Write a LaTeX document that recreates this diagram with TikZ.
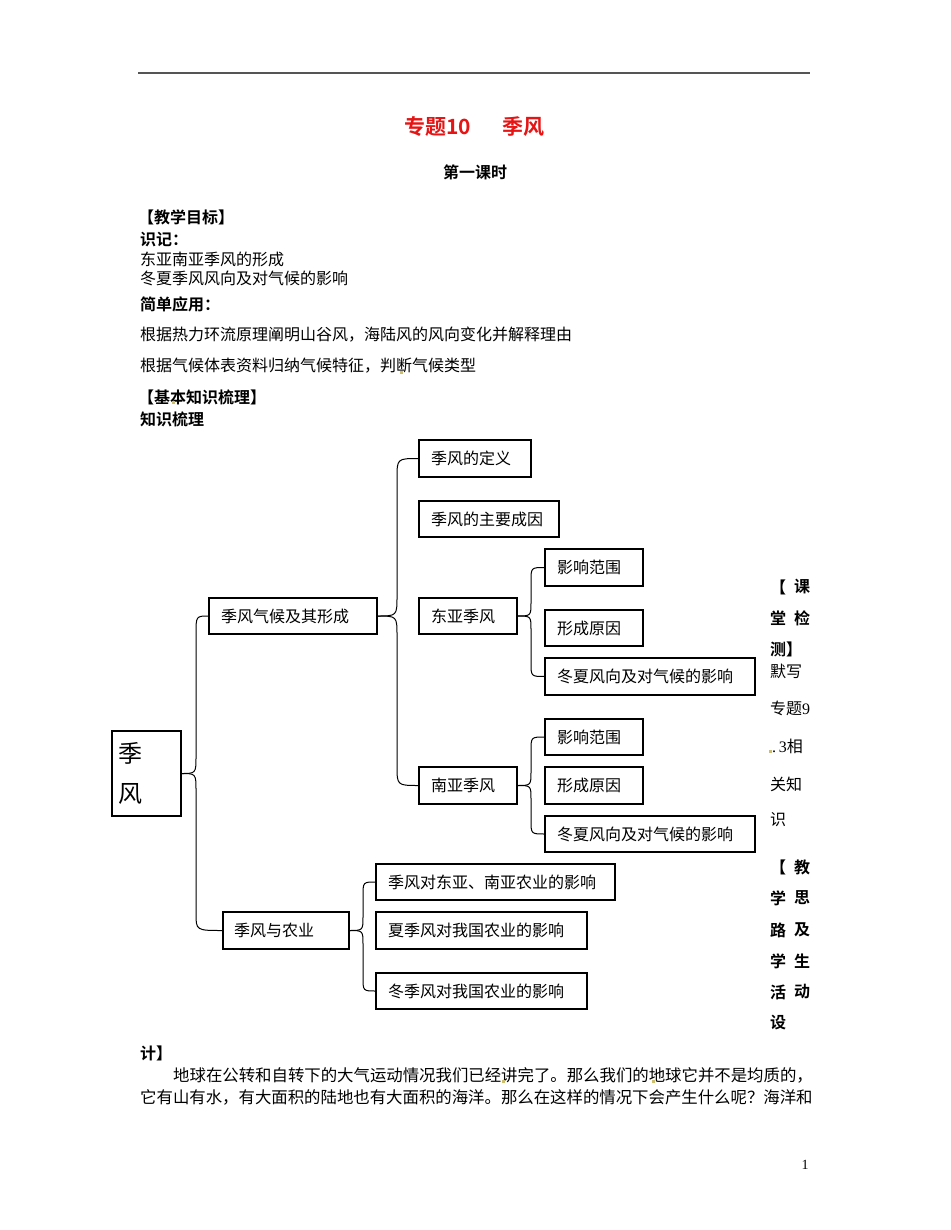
\documentclass[tikz,border=0pt]{standalone}
\usepackage{fontspec}
\newfontfamily\cjk{Noto Sans CJK SC}
\newfontfamily\cjkb{Noto Sans CJK SC Bold}
\newfontfamily\serif{Liberation Serif}
\definecolor{titlered}{RGB}{230,20,20}
\definecolor{marky}{RGB}{205,190,110}
\definecolor{rulegray}{RGB}{85,85,85}
\begin{document}
\begin{tikzpicture}[x=1pt,y=-1pt,
  txt/.style={anchor=west, inner sep=0pt, font=\cjk\fontsize{16}{19}\selectfont},
  btxt/.style={anchor=west, inner sep=0pt, font=\cjkb\fontsize{16}{19}\selectfont},
  ptxt/.style={anchor=west, inner sep=0pt, font=\cjk\fontsize{16.4}{19}\selectfont},
  bx/.style={draw, line width=1.2pt, inner xsep=12pt, inner ysep=0pt, outer sep=0pt,
             anchor=north west, align=left, font=\cjk\fontsize{16}{19}\selectfont},
  conn/.style={line width=1pt},
  mk/.style={fill=marky, draw=none}]
\useasboundingbox[fill=white] (0,0) rectangle (950,1230);

% header rule
\draw[line width=2pt, rulegray] (138,73) -- (810,73);

% title
\node[btxt, text=titlered, font=\cjkb\fontsize{21}{24}\selectfont] (t1) at (404,127) {专题10};
\node[btxt, text=titlered, font=\cjkb\fontsize{21}{24}\selectfont] (t2) at (502,127) {季风};
\node[btxt] (t3) at (443,172) {第一课时};

% upper text
\node[btxt] (h1) at (138,217) {【教学目标】};
\node[btxt] (h2) at (140,240) {识记：};
\node[txt] (l1) at (140,259) {东亚南亚季风的形成};
\node[txt] (l2) at (140,278) {冬夏季风风向及对气候的影响};
\node[btxt] (h3) at (140,304) {简单应用：};
\node[txt] (l3) at (140,335) {根据热力环流原理阐明山谷风，海陆风的风向变化并解释理由};
\node[txt] (l4) at (140,366) {根据气候体表资料归纳气候特征，判断气候类型};
\fill[mk] (399.5,370.5) rectangle (402.5,373.5);
\node[btxt] (h4) at (138,397) {【基本知识梳理】};
\fill[mk] (171.5,400.5) rectangle (174.5,403.5);
\node[btxt] (h5) at (140,419) {知识梳理};

% boxes
\node[bx, inner xsep=6pt, text width=57pt, minimum height=85pt,
      font=\cjk\fontsize{24}{40}\selectfont] (root) at (112,731) {季\\风};
\node[bx, text width=144pt, minimum height=36pt] (mid1) at (209,598) {季风气候及其形成};
\node[bx, text width=88pt,  minimum height=37pt] (def)  at (419,440) {季风的定义};
\node[bx, text width=116pt, minimum height=36pt] (cau)  at (419,501) {季风的主要成因};
\node[bx, text width=74pt,  minimum height=36pt] (ea)   at (419,598) {东亚季风};
\node[bx, text width=74pt,  minimum height=37pt] (ea1)  at (545,549) {影响范围};
\node[bx, text width=74pt,  minimum height=36pt] (ea2)  at (545,610) {形成原因};
\node[bx, text width=186pt, minimum height=37pt] (ea3)  at (545,658) {冬夏风向及对气候的影响};
\node[bx, text width=74pt,  minimum height=37pt] (sa)   at (419,767) {南亚季风};
\node[bx, text width=74pt,  minimum height=36pt] (sa1)  at (545,719) {影响范围};
\node[bx, text width=74pt,  minimum height=37pt] (sa2)  at (545,767) {形成原因};
\node[bx, text width=186pt, minimum height=36pt] (sa3)  at (545,816) {冬夏风向及对气候的影响};
\node[bx, inner xsep=11pt, text width=104pt, minimum height=37pt] (ag) at (223,912) {季风与农业};
\node[bx, text width=215pt, minimum height=36pt] (ag1)  at (376,864) {季风对东亚、南亚农业的影响};
\node[bx, text width=187pt, minimum height=37pt] (ag2)  at (376,912) {夏季风对我国农业的影响};
\node[bx, text width=187pt, minimum height=36pt] (ag3)  at (376,973) {冬季风对我国农业的影响};

% connectors (braces)
\draw[conn] (root.east) .. controls (196,773.5) .. (196,756) -- (196,634) .. controls (196,616) .. (mid1.west);
\draw[conn] (root.east) .. controls (196,773.5) .. (196,791) -- (196,913) .. controls (196,930.5) .. (ag.west);
\draw[conn] (mid1.east) .. controls (397,616) .. (397,596) -- (397,478.5) .. controls (397,458.5) .. (def.west);
\draw[conn] (mid1.east) .. controls (397,616) .. (397,636) -- (397,765.5) .. controls (397,785.5) .. (sa.west);
\draw[conn] (ea.east) .. controls (531,616) .. (531,602) -- (531,581.5) .. controls (531,567.5) .. (ea1.west);
\draw[conn] (ea.east) .. controls (531,616) .. (531,630) -- (531,662.5) .. controls (531,676.5) .. (ea3.west);
\draw[conn] (sa.east) .. controls (531,785.5) .. (531,771.5) -- (531,751) .. controls (531,737) .. (sa1.west);
\draw[conn] (sa.east) .. controls (531,785.5) .. (531,799.5) -- (531,820) .. controls (531,834) .. (sa3.west);
\draw[conn] (ag.east) .. controls (363,930.5) .. (363,916.5) -- (363,896) .. controls (363,882) .. (ag1.west);
\draw[conn] (ag.east) .. controls (363,930.5) .. (363,944.5) -- (363,977) .. controls (363,991) .. (ag3.west);

% right column
\node[btxt] (r1a) at (770,587) {【};
\node[btxt] (r1b) at (794,587) {课};
\node[btxt] (r2a) at (770,618) {堂};
\node[btxt] (r2b) at (794,618) {检};
\node[btxt] (r3)  at (770,649) {测】};
\node[txt]  (r4)  at (770,671) {默写};
\node[txt]  (r5)  at (770,708) {专题{\serif 9}};
\fill[mk] (768.5,749.5) rectangle (771.5,752.5);
\node[txt]  (r6)  at (772,746) {{\serif .\,3}相};
\node[txt]  (r7)  at (770,784) {关知};
\node[txt]  (r8)  at (770,820) {识};
\node[btxt] (r9a)  at (770,867) {【};
\node[btxt] (r9b)  at (794,867) {教};
\node[btxt] (r10a) at (770,898) {学};
\node[btxt] (r10b) at (794,898) {思};
\node[btxt] (r11a) at (770,930) {路};
\node[btxt] (r11b) at (794,930) {及};
\node[btxt] (r12a) at (770,961) {学};
\node[btxt] (r12b) at (794,961) {生};
\node[btxt] (r13a) at (770,992) {活};
\node[btxt] (r13b) at (794,992) {动};
\node[btxt] (r14)  at (770,1023) {设};

% bottom text
\node[btxt] (h6) at (140,1053) {计】};
\node[ptxt] (p1) at (173,1075) {地球在公转和自转下的大气运动情况我们已经讲完了。那么我们的地球它并不是均质的，};
\fill[mk] (501.5,1079.5) rectangle (504.5,1082.5);
\fill[mk] (651.5,1079.5) rectangle (654.5,1082.5);
\node[ptxt] (p2) at (140,1097) {它有山有水，有大面积的陆地也有大面积的海洋。那么在这样的情况下会产生什么呢？海洋和};

% page number
\node[inner sep=0pt, font=\serif\fontsize{14}{16}\selectfont] (pg) at (805,1165) {1};
\end{tikzpicture}
\end{document}
